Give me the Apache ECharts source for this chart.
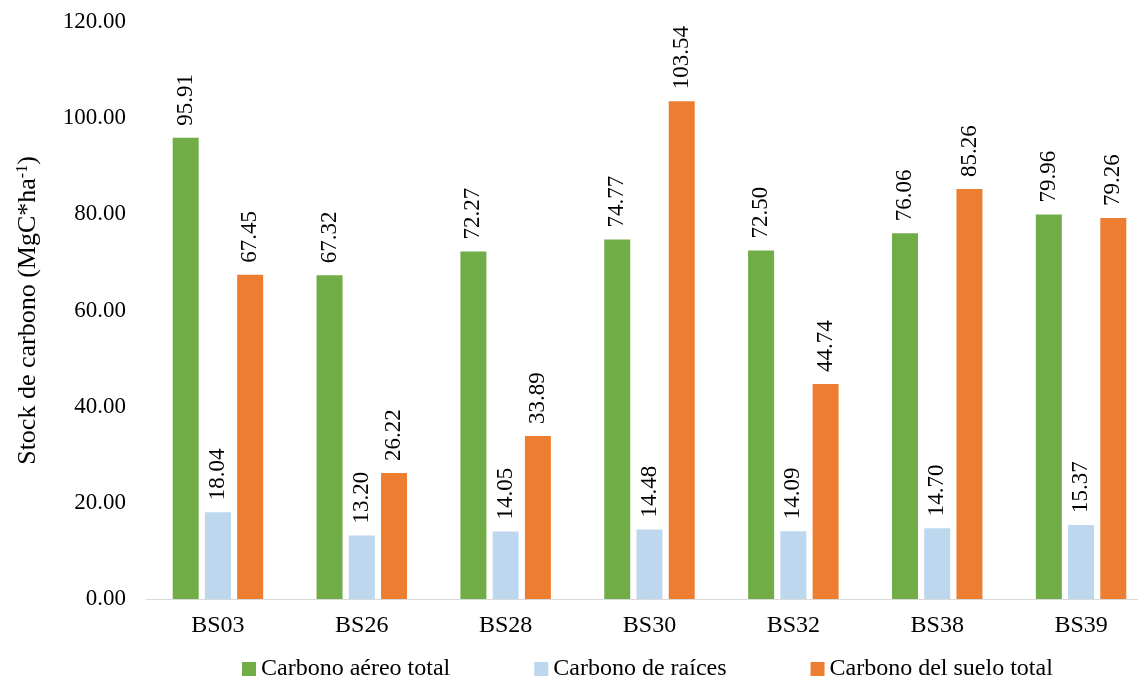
<!DOCTYPE html>
<html>
<head>
<meta charset="utf-8">
<script src="https://cdn.jsdelivr.net/npm/echarts@6/dist/echarts.min.js"></script>
<style>
  html, body { margin: 0; padding: 0; background: #fff; }
  #chart { width: 1138px; height: 678px; }
</style>
</head>
<body>
<div id="chart"></div>
<script>
// Carbon stock per plot (MgC/ha)
const plots = ['BS03', 'BS26', 'BS28', 'BS30', 'BS32', 'BS38', 'BS39'];
const carbonoAereo = [95.91, 67.32, 72.27, 74.77, 72.50, 76.06, 79.96];
const carbonoRaices = [18.04, 13.20, 14.05, 14.48, 14.09, 14.70, 15.37];
const carbonoSuelo = [67.45, 26.22, 33.89, 103.54, 44.74, 85.26, 79.26];
const seriesNames = ['Carbono aéreo total', 'Carbono de raíces', 'Carbono del suelo total'];
const colors = ['#70ad47', '#bdd7ee', '#ed7d31'];

const font = 'Liberation Serif, Times New Roman, serif';

const valueLabel = {
  show: true,
  position: 'top',
  rotate: 90,
  align: 'left',
  verticalAlign: 'middle',
  distance: 12,
  color: '#000',
  fontFamily: font,
  fontSize: 23,
  formatter: p => p.value.toFixed(2)
};

function makeSeries(name, data, color) {
  return {
    name: name,
    type: 'bar',
    data: data,
    barWidth: 26,
    barGap: '24%',
    itemStyle: { color: color },
    label: valueLabel
  };
}

const chart = echarts.init(document.getElementById('chart'));
chart.setOption({
  animation: false,
  textStyle: { fontFamily: font },
  grid: { left: 146, width: 1007, top: 22, bottom: 79, outerBoundsMode: 'none', containLabel: false },
  legend: {
    top: 652,
    left: 237,
    itemWidth: 14,
    itemHeight: 14,
    itemGap: 84,
    icon: 'rect',
    textStyle: { fontFamily: font, fontSize: 24, color: '#000' },
    data: seriesNames
  },
  xAxis: {
    type: 'category',
    data: plots,
    axisLine: { lineStyle: { color: '#d9d9d9', width: 1 } },
    axisTick: { show: false },
    axisLabel: { color: '#000', fontFamily: font, fontSize: 24, margin: 15 }
  },
  yAxis: {
    type: 'value',
    min: 0,
    max: 120,
    interval: 20,
    name: 'Stock de carbono (MgC*ha{sup|-1})',
    nameLocation: 'middle',
    nameGap: 105,
    nameRotate: 90,
    nameTextStyle: {
      color: '#000',
      fontFamily: font,
      fontSize: 26,
      rich: { sup: { fontSize: 16, verticalAlign: 'top', padding: [0, 0, 10, 0], fontFamily: font, color: '#000' } }
    },
    axisLine: { show: false },
    axisTick: { show: false },
    splitLine: { show: false },
    axisLabel: { color: '#000', fontFamily: font, fontSize: 23, margin: 20, formatter: v => v.toFixed(2) }
  },
  series: [
    makeSeries(seriesNames[0], carbonoAereo, colors[0]),
    makeSeries(seriesNames[1], carbonoRaices, colors[1]),
    makeSeries(seriesNames[2], carbonoSuelo, colors[2])
  ]
});
</script>
</body>
</html>
